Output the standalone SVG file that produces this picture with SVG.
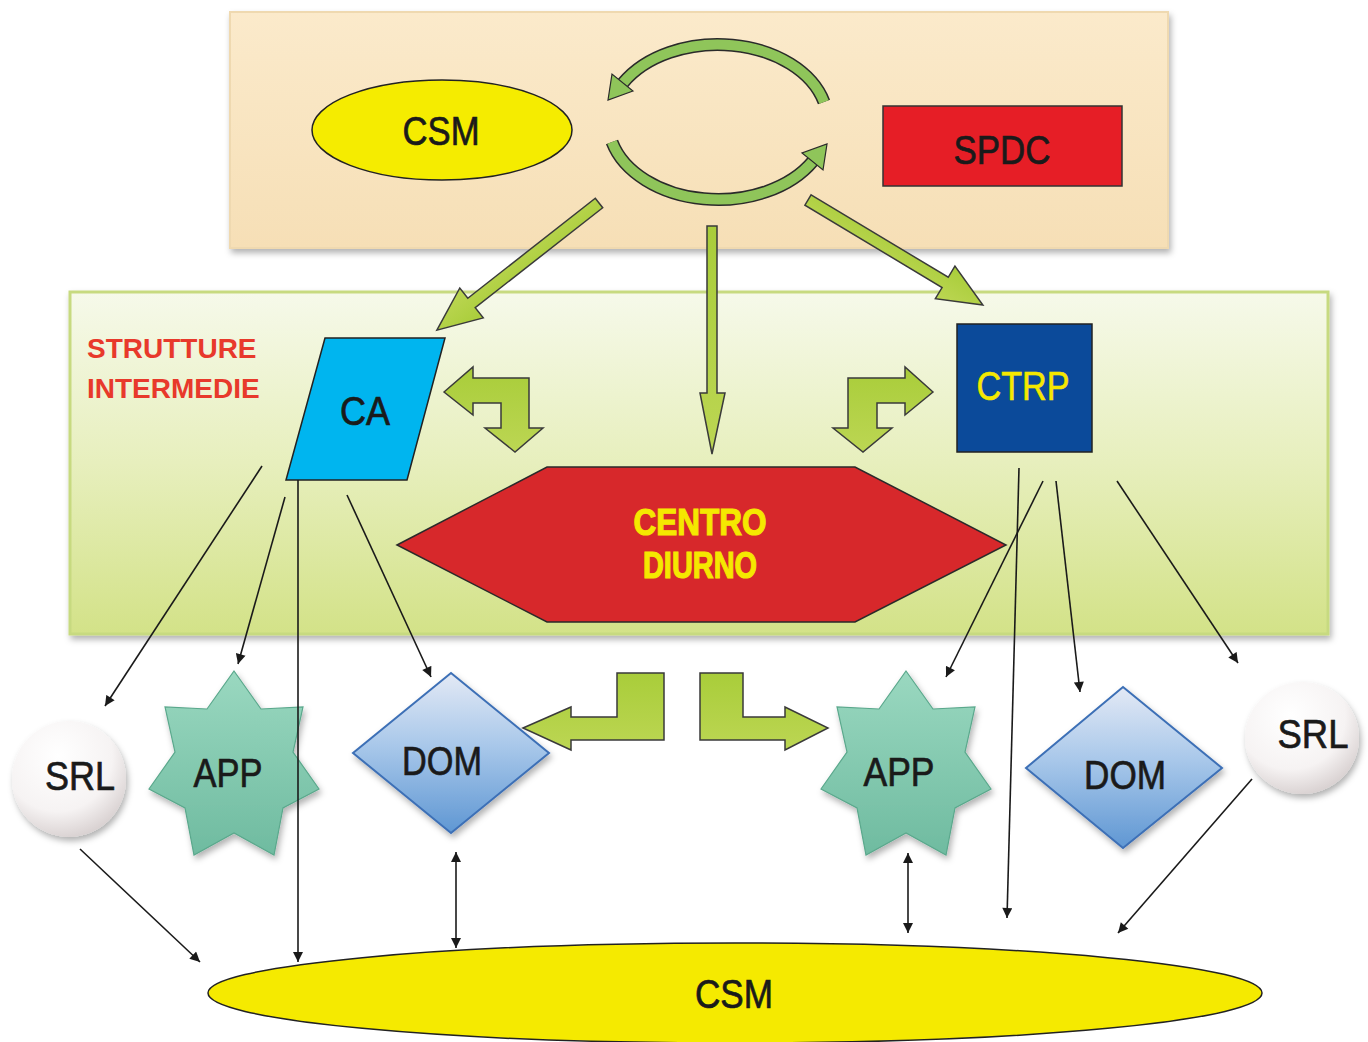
<svg xmlns="http://www.w3.org/2000/svg" width="1368" height="1042" viewBox="0 0 1368 1042">
<defs>
<style>
.lbl{font-family:"Liberation Sans",Arial,sans-serif;font-size:41px;fill:#1a1a1a;stroke:#1a1a1a;stroke-width:0.7;text-anchor:middle}
.ylw{font-family:"Liberation Sans",Arial,sans-serif;fill:#f5e800;text-anchor:middle}
.cd{font-family:"Liberation Sans",Arial,sans-serif;font-size:37px;font-weight:bold;fill:#f5e800;stroke:#f5e800;stroke-width:1.2;text-anchor:middle}
.garrow{fill:url(#gArrow);stroke:#3a3a3a;stroke-width:1.5;stroke-linejoin:miter}
.conn{fill:none;stroke:#1a1a1a;stroke-width:1.6}
.cyc-o{fill:none;stroke:#2a2a2a;stroke-width:13}
.cyc-i{fill:none;stroke:#8fc55a;stroke-width:10}
</style>
<linearGradient id="gArrow" x1="0" y1="0" x2="0" y2="1">
<stop offset="0" stop-color="#a9cd3a"/><stop offset="1" stop-color="#bcd653"/>
</linearGradient>
<linearGradient id="gGreen" x1="0" y1="0" x2="0" y2="1">
<stop offset="0" stop-color="#f6f9ea"/><stop offset="0.5" stop-color="#e7efbd"/><stop offset="1" stop-color="#d3e288"/>
</linearGradient>
<linearGradient id="gTan" x1="0" y1="0" x2="0" y2="1">
<stop offset="0" stop-color="#fbeacb"/><stop offset="1" stop-color="#f6dfb6"/>
</linearGradient>
<linearGradient id="gDom" x1="0" y1="0" x2="0" y2="1">
<stop offset="0" stop-color="#e3e9f5"/><stop offset="0.45" stop-color="#a9c8ea"/><stop offset="1" stop-color="#5f97d3"/>
</linearGradient>
<linearGradient id="gStar" x1="0" y1="0" x2="0" y2="1">
<stop offset="0" stop-color="#9ad8c0"/><stop offset="1" stop-color="#6fbba0"/>
</linearGradient>
<radialGradient id="gSrl" cx="0.4" cy="0.3" r="0.8">
<stop offset="0" stop-color="#ffffff"/><stop offset="0.6" stop-color="#f6f3f3"/><stop offset="1" stop-color="#cfc6c6"/>
</radialGradient>
<filter id="shadow" x="-10%" y="-10%" width="130%" height="130%">
<feDropShadow dx="2" dy="4" stdDeviation="3" flood-color="#000" flood-opacity="0.3"/>
</filter>
<marker id="ah" viewBox="0 0 10 10" refX="10" refY="5" markerWidth="11" markerHeight="10" markerUnits="userSpaceOnUse" orient="auto-start-reverse">
<path d="M0,0 L10,5 L0,10 z" fill="#1a1a1a"/>
</marker>
</defs>

<!-- backgrounds -->
<g id="top-area">
<rect x="230" y="12" width="938" height="236" fill="url(#gTan)" stroke="#efd9b0" stroke-width="2" filter="url(#shadow)"/>
</g>
<g id="strutture-area">
<rect x="70" y="292" width="1258" height="342" fill="url(#gGreen)" stroke="#c7da80" stroke-width="3" filter="url(#shadow)"/>
<text x="87" y="358" font-family="'Liberation Sans',Arial,sans-serif" font-weight="bold" font-size="28" fill="#e8392b">STRUTTURE</text>
<text x="87" y="398" font-family="'Liberation Sans',Arial,sans-serif" font-weight="bold" font-size="28" fill="#e8392b">INTERMEDIE</text>
</g>

<!-- nodes -->
<g id="csm-top">
<ellipse cx="442" cy="130" rx="130" ry="50" fill="#f5ec00" stroke="#222" stroke-width="1.5"/>
<text class="lbl" x="441" y="145" textLength="77" lengthAdjust="spacingAndGlyphs">CSM</text>
</g>
<g id="spdc">
<rect x="883" y="106" width="239" height="80" fill="#e61e26" stroke="#333" stroke-width="1.5"/>
<text class="lbl" x="1002" y="164" textLength="97" lengthAdjust="spacingAndGlyphs">SPDC</text>
</g>
<g id="ca">
<polygon points="325,338 445,338 407,480 286,480" fill="#00b5ef" stroke="#222" stroke-width="1.5"/>
<text class="lbl" x="365" y="425" textLength="50" lengthAdjust="spacingAndGlyphs">CA</text>
</g>
<g id="ctrp">
<rect x="957" y="324" width="135" height="128" fill="#0b4a9a" stroke="#222" stroke-width="1.5"/>
<text class="ylw" x="1023" y="400" font-size="40" stroke="#f5e800" stroke-width="0.6" textLength="93" lengthAdjust="spacingAndGlyphs">CTRP</text>
</g>
<g id="centro-diurno">
<polygon points="397,545 547,467 855,467 1006,545 855,622 547,622" fill="#d7282b" stroke="#2a2a2a" stroke-width="1.5"/>
<text class="cd" x="700" y="535" textLength="133" lengthAdjust="spacingAndGlyphs">CENTRO</text>
<text class="cd" x="700" y="578" textLength="114" lengthAdjust="spacingAndGlyphs">DIURNO</text>
</g>
<g id="srl-left">
<ellipse cx="69" cy="779" rx="57" ry="58" fill="url(#gSrl)" filter="url(#shadow)"/>
<text class="lbl" x="80" y="790" textLength="70" lengthAdjust="spacingAndGlyphs">SRL</text>
</g>
<g id="app-left">
<polygon points="234,671 261,709 303,707 293,752 319,789 283,808 274,855 234,833 194,855 185,808 149,789 175,752 165,707 207,709" fill="url(#gStar)" stroke="#5aa88c" stroke-width="1.2" filter="url(#shadow)"/>
<text class="lbl" x="228" y="787" textLength="69" lengthAdjust="spacingAndGlyphs">APP</text>
</g>
<g id="dom-left">
<polygon points="451,673 549,753 451,833 353,753" fill="url(#gDom)" stroke="#3c6fb6" stroke-width="2" filter="url(#shadow)"/>
<text class="lbl" x="442" y="775" textLength="80" lengthAdjust="spacingAndGlyphs">DOM</text>
</g>
<g id="app-right">
<polygon points="906,671 933,709 975,707 965,752 991,789 955,808 946,855 906,833 866,855 857,808 821,789 847,752 837,707 879,709" fill="url(#gStar)" stroke="#5aa88c" stroke-width="1.2" filter="url(#shadow)"/>
<text class="lbl" x="899" y="786" textLength="71" lengthAdjust="spacingAndGlyphs">APP</text>
</g>
<g id="dom-right">
<polygon points="1123,687 1222,768 1123,848 1026,768" fill="url(#gDom)" stroke="#3c6fb6" stroke-width="2" filter="url(#shadow)"/>
<text class="lbl" x="1125" y="789" textLength="82" lengthAdjust="spacingAndGlyphs">DOM</text>
</g>
<g id="srl-right">
<ellipse cx="1302" cy="738" rx="57" ry="56" fill="url(#gSrl)" filter="url(#shadow)"/>
<text class="lbl" x="1313" y="748" textLength="71" lengthAdjust="spacingAndGlyphs">SRL</text>
</g>
<g id="csm-bottom">
<ellipse cx="735" cy="993" rx="527" ry="50" fill="#f5ea00" stroke="#222" stroke-width="1.5"/>
<text class="lbl" x="734" y="1008" textLength="78" lengthAdjust="spacingAndGlyphs">CSM</text>
</g>

<!-- connectors -->
<g id="connectors">
<!-- cycle arrows -->
<path class="cyc-o" d="M824,102 A110 78 0 0 0 623,83"/>
<path class="cyc-i" d="M824,102 A110 78 0 0 0 623,83"/>
<polygon points="633,91 608,100 612,74" fill="#8fc55a" stroke="#2a2a2a" stroke-width="1.2"/>
<path class="cyc-o" d="M612,142 A110 78 0 0 0 813,161"/>
<path class="cyc-i" d="M612,142 A110 78 0 0 0 813,161"/>
<polygon points="823,170 827,144 802,153" fill="#8fc55a" stroke="#2a2a2a" stroke-width="1.2"/>

<!-- big green arrows -->
<polygon class="garrow" transform="translate(599,203) rotate(141.9)" points="0,-6 162,-6 162,-19 206,0 162,19 162,6 0,6"/>
<polygon class="garrow" transform="translate(808,200) rotate(31)" points="0,-6 160,-6 160,-19 204,0 160,19 160,6 0,6"/>
<polygon class="garrow" points="707,226 717,226 717,393 725,393 712,454 700,393 707,393"/>

<!-- bent arrows -->
<polygon class="garrow" points="444,392 473,367 473,378 529,378 529,428 543,428 515,452 485,428 501,428 501,403 473,403 473,415"/>
<polygon class="garrow" points="933,392 905,367 905,378 848,378 848,428 833,428 863,452 892,428 877,428 877,403 905,403 905,415"/>
<polygon class="garrow" points="523,728 571,707 571,717 617,717 617,673 664,673 664,740 571,740 571,750"/>
<polygon class="garrow" points="700,673 743,673 743,717 785,717 785,707 828,728 785,750 785,740 700,740"/>

<!-- thin connectors -->
<line class="conn" x1="262" y1="466" x2="105" y2="706" marker-end="url(#ah)"/>
<line class="conn" x1="285" y1="497" x2="238" y2="664" marker-end="url(#ah)"/>
<line class="conn" x1="298" y1="480" x2="298" y2="962" marker-end="url(#ah)"/>
<line class="conn" x1="347" y1="495" x2="431" y2="677" marker-end="url(#ah)"/>
<line class="conn" x1="80" y1="849" x2="200" y2="962" marker-end="url(#ah)"/>
<line class="conn" x1="456" y1="852" x2="456" y2="948" marker-start="url(#ah)" marker-end="url(#ah)"/>
<line class="conn" x1="1019" y1="468" x2="1007" y2="918" marker-end="url(#ah)"/>
<line class="conn" x1="1043" y1="481" x2="946" y2="677" marker-end="url(#ah)"/>
<line class="conn" x1="1056" y1="481" x2="1080" y2="692" marker-end="url(#ah)"/>
<line class="conn" x1="1117" y1="481" x2="1238" y2="663" marker-end="url(#ah)"/>
<line class="conn" x1="1252" y1="779" x2="1118" y2="933" marker-end="url(#ah)"/>
<line class="conn" x1="908" y1="853" x2="908" y2="933" marker-start="url(#ah)" marker-end="url(#ah)"/>
</g>
</svg>
